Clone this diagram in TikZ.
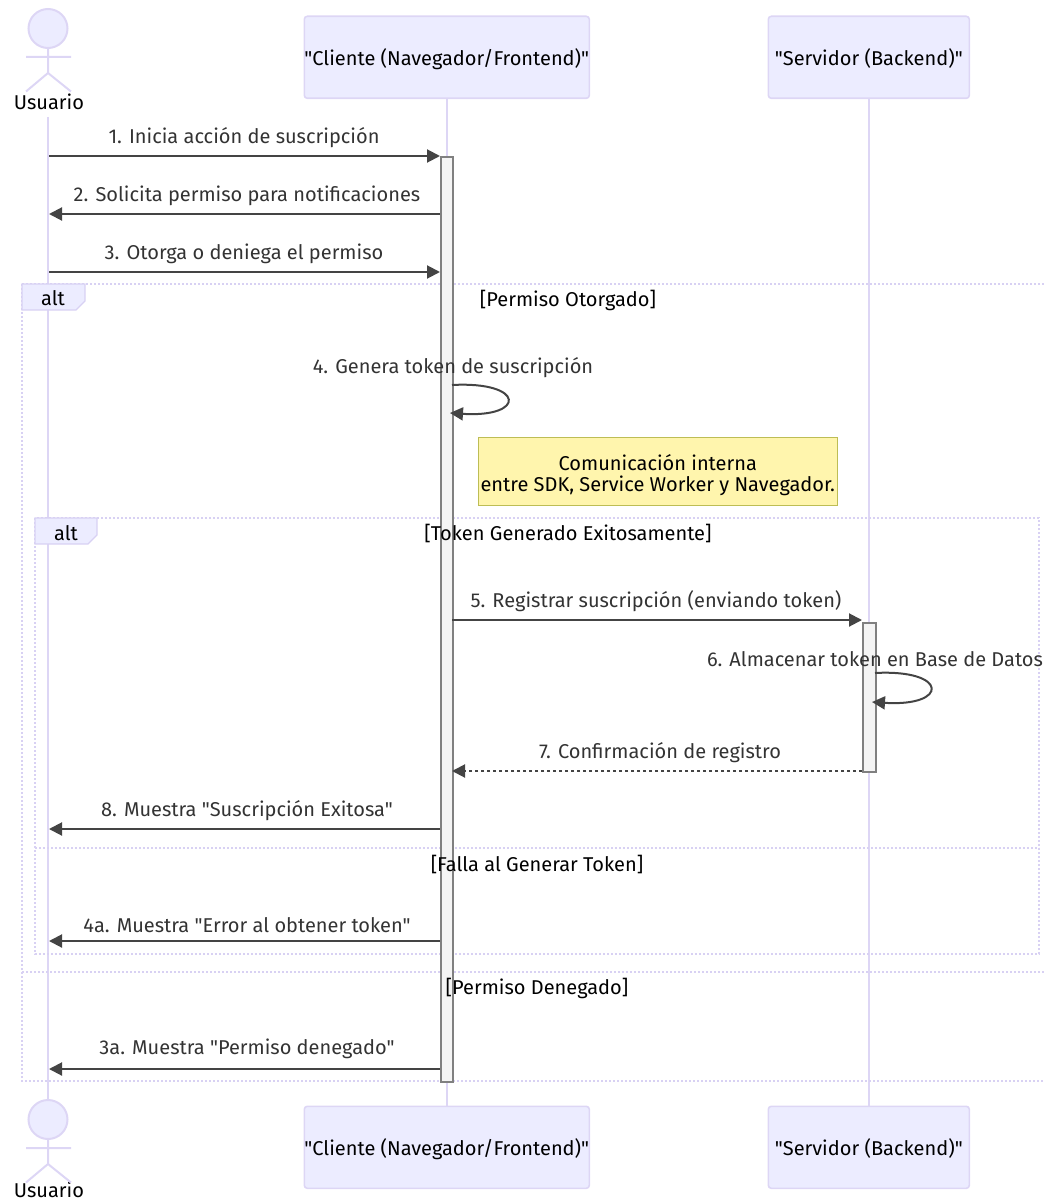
\documentclass[tikz,border=0pt]{standalone}
\usepackage{fontspec}
\newfontfamily\basef{Fira Sans}
\usetikzlibrary{arrows.meta}
\definecolor{lav}{HTML}{ECECFF}
\definecolor{lavline}{HTML}{DDD6F5}
\definecolor{lavframe}{HTML}{D8D1F3}
\definecolor{msgc}{HTML}{444444}
\definecolor{txtc}{HTML}{333333}
\definecolor{actc}{HTML}{F4F4F4}
\definecolor{actb}{HTML}{808080}
\definecolor{notef}{HTML}{FFF5AD}
\definecolor{noteb}{HTML}{BDBD55}
\tikzset{
  x=1pt,y=-1pt,
  basefont/.style={font=\basef\fontsize{20}{24}\selectfont},
  participant/.style={draw=lavline,fill=lav,line width=1.6pt,rounded corners=3pt,anchor=north west,inner sep=0pt,basefont,text=black,text height=22pt,text depth=5pt},
  stickman/.style={draw=lavline,line width=2pt},
  lifeline/.style={draw=lavline,line width=2pt},
  activation/.style={draw=actb,fill=actc,line width=1.6pt},
  msg/.style={draw=msgc,line width=2pt,-{Triangle[length=13pt,width=13pt]}},
  msgdash/.style={msg,dash pattern=on 3pt off 3pt},
  msgtext/.style={basefont,text=txtc,inner sep=0pt},
  frameline/.style={draw=lavframe,line width=2.2pt,dash pattern=on 2pt off 2pt},
  framelabel/.style={draw=lavframe,fill=lav,line width=1.2pt},
  guard/.style={basefont,text=black,inner sep=0pt},
  notebox/.style={draw=noteb,fill=notef,line width=1.5pt,inner sep=0pt,anchor=north west,basefont,text=black,align=center}
}
\begin{document}
\begin{tikzpicture}
\useasboundingbox (0,0) rectangle (1045,1201);
% participants
\node[participant,minimum width=285pt,minimum height=82pt] (ct) at (303.5,15.5) {"Cliente (Navegador/Frontend)"};
\node[participant,minimum width=201pt,minimum height=82pt] (st) at (767.5,15.5) {"Servidor (Backend)"};
\node[participant,minimum width=285pt,minimum height=82pt] (cb) at (303.5,1105.5) {"Cliente (Navegador/Frontend)"};
\node[participant,minimum width=201pt,minimum height=82pt] (sb) at (767.5,1105.5) {"Servidor (Backend)"};
% actors
\node[basefont,text=black,inner sep=0pt] (ut) at (49,102) {Usuario};
\node[basefont,text=black,inner sep=0pt] (ub) at (49,1190) {Usuario};
\coordinate (lt) at (48,117);
\coordinate (lb) at (48,1100);
% lifelines
\draw[lifeline] (lt) -- (lb);
\draw[lifeline] (ct.south) -- (cb.north);
\draw[lifeline] (st.south) -- (sb.north);
\foreach \dy in {0,1091}{
  \begin{scope}[yshift=-\dy pt]
    \draw[stickman,fill=lav] (48,28.5) circle (19.5);
    \draw[stickman] (48,48) -- (48,73) (26,57) -- (71,57) (26,91.5) -- (48,73) -- (71,91.5);
  \end{scope}
}
% frames
\draw[frameline] (22,284) -- (1044,284);
\draw[frameline] (22,284) -- (22,1081) -- (1044,1081);
\draw[frameline] (22,972) -- (1044,972);
\draw[frameline] (35,518) rectangle (1039,954);
\draw[frameline] (35,848) -- (1039,848);
\draw[framelabel] (22,284) -- (85,284) -- (85,301) -- (76,310) -- (22,310) -- cycle;
\draw[framelabel] (35,518) -- (97,518) -- (97,535) -- (88,544) -- (35,544) -- cycle;
\node[guard] (alt1) at (53,298) {alt};
\node[guard] (alt2) at (66,533) {alt};
% activations
\node[activation,anchor=north west,minimum width=12pt,minimum height=925pt,inner sep=0pt] (ac) at (440,156) {};
\node[activation,anchor=north west,minimum width=13pt,minimum height=149pt,inner sep=0pt] (as) at (862,622) {};
% note
\node[notebox,minimum width=359pt,minimum height=68pt] (note) at (477.5,436.5) {\rule{0pt}{24pt}Comunicación interna\\[-3pt]entre SDK, Service Worker y Navegador.};
% endpoints
\foreach \n/\y in {1/156,2/214,3/272,8/829,9/941,10/1069}{
  \coordinate (u\n) at (49,\y);
  \coordinate (c\n) at (440,\y);
}
\coordinate (c5) at (452,620);
\coordinate (s5) at (862,620);
\coordinate (c7) at (452,771);
\coordinate (s7) at (862,771);
\coordinate (c4a) at (452,385);
\coordinate (c4b) at (450,413);
\coordinate (s6a) at (875,673);
\coordinate (s6b) at (872,702);
% messages
\draw[msg] (u1) -- (c1);
\draw[msg] (c2) -- (u2);
\draw[msg] (u3) -- (c3);
\draw[msg] (c4a) .. controls (526,381) and (526,418) .. (c4b);
\draw[msg] (c5) -- (s5);
\draw[msg] (s6a) .. controls (949,669) and (949,707) .. (s6b);
\draw[msgdash] (s7) -- (c7);
\draw[msg] (c8) -- (u8);
\draw[msg] (c9) -- (u9);
\draw[msg] (c10) -- (u10);
% labels
\node[msgtext] (m1) at (244,138) {1. Inicia acción de suscripción};
\node[msgtext] (m2) at (247,196) {2. Solicita permiso para notificaciones};
\node[msgtext] (m3) at (244,254) {3. Otorga o deniega el permiso};
\node[msgtext] (m4) at (453,368) {4. Genera token de suscripción};
\node[msgtext] (m5) at (656,601) {5. Registrar suscripción (enviando token)};
\node[msgtext] (m6) at (875,659) {6. Almacenar token en Base de Datos};
\node[msgtext] (m7) at (660,753) {7. Confirmación de registro};
\node[msgtext] (m8) at (247,811) {8. Muestra "Suscripción Exitosa"};
\node[msgtext] (m9) at (247,925) {4a. Muestra "Error al obtener token"};
\node[msgtext] (m10) at (247,1049) {3a. Muestra "Permiso denegado"};
% guards
\node[guard] (g1) at (568,300) {[Permiso Otorgado]};
\node[guard] (g2) at (568,533) {[Token Generado Exitosamente]};
\node[guard] (g3) at (537,864) {[Falla al Generar Token]};
\node[guard] (g4) at (537,988) {[Permiso Denegado]};
\end{tikzpicture}
\end{document}
